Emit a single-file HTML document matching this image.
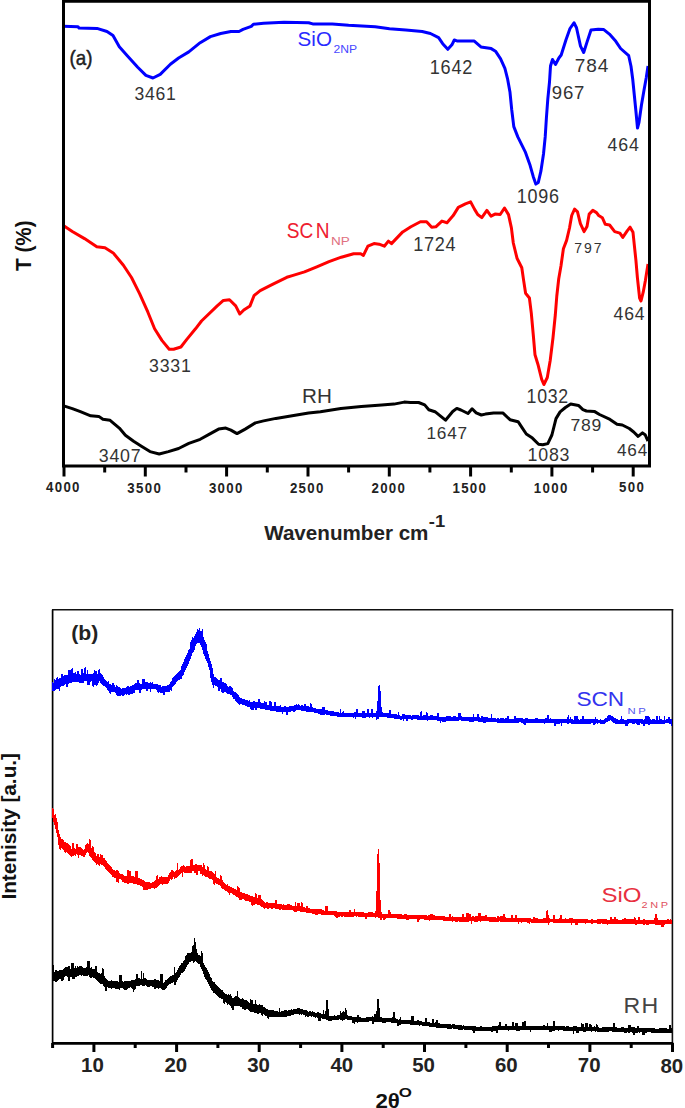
<!DOCTYPE html>
<html><head><meta charset="utf-8"><style>
html,body{margin:0;padding:0;background:#fff;}
body{width:685px;height:1108px;overflow:hidden;}
svg{display:block;}
text{font-family:"Liberation Sans",sans-serif;}
</style></head><body>
<svg width="685" height="1108" viewBox="0 0 685 1108">
<rect width="685" height="1108" fill="#fff"/>
<g fill="none" stroke-width="3" stroke-linejoin="round" stroke-linecap="butt">
<polyline stroke="#0000ff" points="63,26.3 78,26.8 79,28 97,28.4 107,31.5 113,35.6 119.3,46.8 127.5,56 137.7,67.2 145.9,75.4 153,78 160.2,74.4 170.4,64.2 178.6,58 188.8,51.9 200.2,42.7 210.4,36.6 220.7,33.5 230.9,31.5 239,31.5 243,29.4 251.3,26.4 253.4,24.3 263.6,23.3 284,22.3 308.6,22.7 312.7,23.9 332.3,23.9 348.6,25.3 375.2,26.8 389.5,28.8 405.8,30 422.2,31.5 430.4,33.5 438.6,37.6 442.7,43.7 447.8,49.3 451.9,44.8 454.3,40 456.9,40.9 474,40.9 480.9,46.9 491.2,48.6 495.5,51.2 500.6,58.9 504.9,68.3 507.5,78.6 510,92.3 511.7,109.5 513.8,126.6 517.8,136.9 525.5,152.4 529.8,164.4 533.2,176.4 535.8,184.1 538.3,182.4 540.9,171.2 543.5,154 545.2,136.9 546.4,118 547.8,99.2 549.5,82 550.5,66 552.5,59.5 555.5,64.5 558.9,58 561.2,55 566,39.7 570,28.5 574,22.8 576.5,27.7 580.5,46.1 583.7,52.5 587,42.1 591,30 598.2,29.3 603.8,29.6 609.4,34.1 615.8,41.3 620.6,48.5 628.7,55.7 631,66.2 632.7,79 634.3,95 635.9,111 637.5,128 639,122.4 641.5,104.7 644,90.3 646.3,77.4 648,66"/>
<polyline stroke="#ff0000" points="63,225.3 72.3,231.5 84.5,238.6 96.8,246.8 105,247.8 113.2,252.9 123.4,265.2 131.5,277.5 139.7,293.8 147.9,312.2 154.6,328.8 161.9,340.4 169.2,349.2 173.6,349.2 180.9,347 186.6,339.6 195.5,328.8 201.5,321 217.2,305.9 223.4,300.4 229.5,299.8 235.7,305.9 239.8,314 243.8,310 250,305.9 254,295.7 260.2,290.6 272.5,284.4 286.8,277.3 292.3,275.6 304.5,271.9 316.8,266.8 329,261.6 341.3,257.2 353.6,253.8 360.7,253.8 363.4,255.4 367.9,246.2 374,243.6 379.1,244.2 384.3,246.2 388.4,241.1 391.5,243.6 402.7,231.9 410.9,226.8 420.4,221.7 426.6,221.7 431.7,227.2 435.8,226.8 441.9,221.1 447,222.7 453.2,215.6 458.3,207.4 465.4,203.9 470.6,201.9 474.6,209.4 477.7,214.5 481.8,217.6 486.9,210.4 491,216.2 495,214.1 500.2,214.5 504.5,208 508.5,214.6 511.4,227.9 513.3,243 517,258.2 521.8,267.7 523.7,280.9 525.6,293.2 529.4,298 531.3,313.1 533.2,334 535,354.8 537.9,364.2 541.7,379.4 543.9,384.5 547.3,377.5 550.2,360.5 553,337.7 555.3,315 556.8,296 558.7,279 561,265.8 563.4,248.7 566.6,240.4 569.5,228 571.7,215.5 574.6,209 577.5,211.9 580.4,223.6 584.1,231.6 587,226.5 589.2,214.1 592.8,210.4 596.5,212.6 598.7,215.5 602.3,217.7 605.3,224.3 609.6,225 614.7,231.6 619.9,233.1 622.8,237.4 627.2,230.9 630.1,227.2 633,232.3 634.5,246.9 635.9,260.1 637.4,277.6 639.6,298 641,301 643.2,292.2 645.4,280.5 648,264"/>
<polyline stroke="#000" points="63,405.6 72.3,408.6 80.4,411.7 90.7,415.8 98.8,416.4 102.9,419.3 110.1,420.3 119.3,428.1 125.4,435.2 133.6,441.3 141.8,446.5 150,451.6 159.2,454 168.4,451.6 178.6,448.5 188.8,443.4 200.2,439.3 210.4,433.6 218.6,429.1 225.8,428.1 230.9,430.1 237,433.6 245.2,429.1 255.4,422.9 263.6,420.9 275.9,418.4 292.2,415.8 308.6,413.1 320.4,411.7 340.9,408.6 361.3,406.6 381.7,404.9 394,404.1 404.2,402.1 410.4,402.5 418.6,402.5 424.7,404.9 428.8,409.7 435,411.7 445.5,420.2 452.7,411.5 456.8,408.4 460.9,410 464,411.5 468,413.5 472.1,408.8 476.2,412.9 481.3,415 485.4,414.1 493.6,412.9 502.8,412.9 510,419.7 518.1,421.7 522.2,427.8 526.3,434 532.4,438.1 538.6,444.2 542.7,444.8 547.8,443.6 551.9,435 556,418.6 560.1,411.9 565.4,407.5 570.7,404 578.5,405.4 582.9,409.6 586.4,411 594.3,411.4 599.5,414.5 610,419.4 617,424.2 622.3,425 629.3,428.5 633.7,432 638.1,436.4 642.5,432.9 645.1,434.7 648,441"/>
</g>
<g fill="none" stroke="#000">
<path d="M63.5 1.3H649.5V466H63.5Z" stroke-width="3"/>
<line x1="52.6" y1="609.8" x2="52.6" y2="1043.4" stroke-width="1.7"/>
<line x1="52" y1="609.8" x2="673.2" y2="609.8" stroke-width="1.6" stroke="#111"/>
<line x1="672.4" y1="609" x2="672.4" y2="1043.4" stroke-width="1.6" stroke="#111"/>
<line x1="52" y1="1043.4" x2="673.2" y2="1043.4" stroke-width="2.8"/>
</g>
<g stroke="#000" stroke-width="3">
<line x1="633.2" y1="466" x2="633.2" y2="476.5" />
<line x1="551.9" y1="466" x2="551.9" y2="476.5" />
<line x1="470.6" y1="466" x2="470.6" y2="476.5" />
<line x1="389.3" y1="466" x2="389.3" y2="476.5" />
<line x1="308" y1="466" x2="308" y2="476.5" />
<line x1="226.6" y1="466" x2="226.6" y2="476.5" />
<line x1="145.3" y1="466" x2="145.3" y2="476.5" />
<line x1="64" y1="466" x2="64" y2="476.5" />
<line x1="592.6" y1="466" x2="592.6" y2="472.5" />
<line x1="511.3" y1="466" x2="511.3" y2="472.5" />
<line x1="429.9" y1="466" x2="429.9" y2="472.5" />
<line x1="348.6" y1="466" x2="348.6" y2="472.5" />
<line x1="267.3" y1="466" x2="267.3" y2="472.5" />
<line x1="186" y1="466" x2="186" y2="472.5" />
<line x1="104.7" y1="466" x2="104.7" y2="472.5" />
<line x1="93.9" y1="1043" x2="93.9" y2="1052" />
<line x1="176.6" y1="1043" x2="176.6" y2="1052" />
<line x1="259.2" y1="1043" x2="259.2" y2="1052" />
<line x1="341.9" y1="1043" x2="341.9" y2="1052" />
<line x1="424.5" y1="1043" x2="424.5" y2="1052" />
<line x1="507.2" y1="1043" x2="507.2" y2="1052" />
<line x1="589.9" y1="1043" x2="589.9" y2="1052" />
<line x1="672.5" y1="1043" x2="672.5" y2="1052" />
<line x1="52.6" y1="1043" x2="52.6" y2="1048" />
<line x1="135.2" y1="1043" x2="135.2" y2="1048" />
<line x1="217.9" y1="1043" x2="217.9" y2="1048" />
<line x1="300.6" y1="1043" x2="300.6" y2="1048" />
<line x1="383.2" y1="1043" x2="383.2" y2="1048" />
<line x1="465.9" y1="1043" x2="465.9" y2="1048" />
<line x1="548.5" y1="1043" x2="548.5" y2="1048" />
<line x1="631.2" y1="1043" x2="631.2" y2="1048" />
</g>
<g stroke="none" shape-rendering="crispEdges">
<path class="crv" fill="#0000ff" d="M52 681.9H53V682.8H54V678.5H55V680.4H56V678.1H57V677.3H58V679.1H59V678.3H60V677.6H61V674.1H62V673.9H63V675.8H64V675.3H65V674.6H66V674.6H67V674.9H68V670.3H69V670.4H70V670.4H71V668.7H72V668.4H73V672.6H74V672.7H75V672.4H76V673.7H77V670.7H78V671H79V674.4H80V674.5H81V669.2H82V669H83V673.1H84V668.1H85V667.2H86V673.7H87V670.4H88V674H89V673.9H90V673.9H91V673.8H92V673.6H93V673.4H94V669.9H95V671.3H96V671.4H97V673.5H98V670.4H99V669.3H100V673H101V674.3H102V675.3H103V676.7H104V678.8H105V680H106V680.8H107V682.4H108V681.4H109V683.7H110V684.3H111V685.2H112V682.9H113V683.1H114V685H115V686.5H116V685.3H117V686H118V686.7H119V687.2H120V688.1H121V688.6H122V688.1H123V688H124V688.1H125V687.7H126V686.7H127V686.3H128V686H129V686.8H130V686.2H131V685.6H132V685.1H133V684.6H134V684.2H135V683.3H136V683.3H137V679.7H138V679.6H139V683.1H140V683.6H141V683.6H142V679.2H143V679.1H144V679H145V681.5H146V682.3H147V682.4H148V682.5H149V682.6H150V682.2H151V682.9H152V682.4H153V683.8H154V683.8H155V683.8H156V684.1H157V684.4H158V685H159V684.5H160V685.2H161V686.9H162V686.2H163V685.9H164V685.7H165V686.3H166V685.5H167V685.3H168V685.1H169V683.8H170V682H171V680.6H172V678.3H173V676.7H174V675.7H175V674.9H176V673.6H177V672.5H178V671.5H179V671H180V670.2H181V666H182V663.5H183V661.8H184V659.3H185V657.2H186V655.3H187V652.7H188V650.4H189V649H190V642.3H191V639.5H192V637.2H193V638.1H194V636.2H195V634.3H196V632.3H197V629.2H198V629.5H199V628H200V630.8H201V630.7H202V629.2H203V636.7H204V639.7H205V642H206V644.4H207V650.6H208V654.2H209V657.6H210V661H211V664.3H212V668.2H213V673.5H214V676.6H215V676.9H216V678.3H217V679H218V679.7H219V680.4H220V677.7H221V678.2H222V681.7H223V682.2H224V682.7H225V683H226V684H227V685.8H228V686.7H229V685.9H230V686.3H231V687.2H232V688.2H233V690.5H234V691.5H235V692.1H236V693.3H237V694.1H238V695H239V696.7H240V697.8H241V698.1H242V698.5H243V699H244V699.2H245V699.9H246V700.4H247V700.1H248V700.6H249V700.3H250V702H251V702H252V702.1H253V701.4H254V701.1H255V701.6H256V701.6H257V702H258V699.3H259V699.4H260V702.4H261V702.7H262V703H263V703.3H264V701.3H265V701.5H266V701.7H267V704.8H268V705H269V701.3H270V701.4H271V701.5H272V705.5H273V705.7H274V701.8H275V701.9H276V705.8H277V705.9H278V705.9H279V706H280V705.4H281V706.6H282V706.9H283V707.2H284V705.9H285V706.2H286V707.4H287V707.2H288V706.6H289V706.3H290V706.1H291V705.8H292V705.5H293V705.7H294V705.4H295V705.1H296V704.4H297V704.5H298V704.1H299V705.3H300V705.5H301V705.1H302V705.3H303V705.5H304V703.9H305V703.9H306V706.1H307V706.1H308V706.2H309V706.5H310V703.1H311V703.5H312V707.4H313V707.6H314V708.1H315V708.3H316V708.5H317V708.7H318V708.7H319V708.9H320V708.9H321V709.1H322V706.7H323V706.9H324V707H325V709.7H326V709.9H327V710H328V710.8H329V711H330V710.6H331V710.8H332V711.1H333V711.3H334V711.5H335V711.6H336V711.7H337V711.9H338V712.1H339V712.5H340V709.3H341V712.8H342V711.9H343V710.9H344V712.6H345V712.6H346V712.9H347V712.9H348V712.8H349V713.3H350V713.3H351V713.2H352V713.1H353V712.6H354V712.4H355V711.9H356V708.9H357V708.6H358V712.9H359V713H360V713.1H361V713.1H362V710.5H363V710.5H364V710.5H365V713.2H366V712.9H367V709.4H368V709.4H369V712.9H370V712.6H371V709.1H372V709.2H373V713.3H374V713.3H375V713.1H376V710.8H377V700.9H378V686H379V684.8H380V691.3H381V706.5H382V712.2H383V713H384V713.2H385V713.3H386V712.7H387V712.8H388V713.4H389V710H390V710.1H391V713.8H392V713.7H393V713.8H394V714.4H395V714.3H396V714.4H397V714.6H398V711.5H399V715.1H400V715.5H401V715.5H402V714.3H403V714.2H404V714.2H405V715.3H406V715.3H407V715.3H408V715.4H409V715.2H410V715.2H411V715.5H412V715.4H413V715.3H414V715.2H415V714.6H416V714.6H417V714.8H418V715.4H419V715.6H420V711.5H421V711.4H422V715.5H423V715.1H424V715.2H425V715.3H426V712.4H427V712.5H428V716.2H429V716.1H430V715.3H431V715.4H432V715.4H433V715.8H434V715.9H435V716H436V716.1H437V712.8H438V712.9H439V716.8H440V716.9H441V717.1H442V717H443V717.2H444V717.4H445V717.4H446V716.2H447V716.1H448V716H449V715.9H450V716.3H451V716.9H452V716.9H453V716.4H454V716.4H455V716.3H456V716.7H457V716.7H458V713.3H459V713.2H460V713.2H461V716.1H462V716.6H463V716.7H464V716.8H465V716.8H466V716.8H467V716.8H468V716.7H469V716.8H470V716.9H471V717H472V717.4H473V714.2H474V717.2H475V716.9H476V717.2H477V714.1H478V714.2H479V717.4H480V717.5H481V716.3H482V716.3H483V717.3H484V717.4H485V717.4H486V717.4H487V717.4H488V717.8H489V718H490V718.1H491V714.3H492V718.4H493V718.4H494V718.4H495V718.4H496V718.5H497V718.4H498V718.4H499V718.5H500V717.6H501V717.7H502V717.7H503V717.8H504V718.7H505V718.3H506V718.3H507V716.3H508V716.2H509V718.6H510V718.6H511V718.5H512V718.5H513V718.6H514V715.5H515V715.6H516V718.2H517V718.1H518V718.2H519V718.1H520V718.3H521V718.3H522V718.4H523V718.5H524V718.6H525V718.1H526V718.2H527V718.3H528V718.9H529V718.7H530V718.6H531V718.5H532V718.5H533V718.7H534V718.7H535V718.2H536V718.2H537V718.4H538V718.5H539V718.5H540V718.5H541V719H542V719.1H543V719.1H544V718.9H545V718.1H546V718.1H547V715H548V715H549V718.7H550V718.3H551V718.9H552V718.9H553V719H554V719H555V719.3H556V719.4H557V719.4H558V719.4H559V719.4H560V718.6H561V718.6H562V719H563V719H564V718.7H565V718.7H566V718.8H567V717.2H568V715.3H569V719.3H570V716.7H571V719.3H572V719.3H573V719.6H574V716.4H575V716.4H576V716.1H577V716.1H578V719.2H579V719.5H580V718.6H581V718.7H582V715.7H583V715.7H584V719.2H585V719.2H586V719.4H587V719.3H588V719.4H589V719.4H590V719.4H591V719.2H592V718.7H593V718.8H594V718.8H595V716.9H596V719.2H597V718.6H598V719.5H599V719.6H600V719.2H601V719.5H602V719.5H603V719.6H604V718.9H605V718.4H606V717.7H607V716.4H608V715.4H609V714.7H610V714.6H611V715.7H612V716.4H613V717.2H614V717.7H615V718.4H616V719.2H617V718.9H618V719.7H619V719.8H620V719.4H621V715.7H622V719.3H623V719.3H624V719.7H625V719.6H626V719.5H627V719.4H628V718.8H629V719.4H630V719.4H631V719.4H632V718.8H633V718.7H634V718.5H635V718.9H636V718.8H637V718.9H638V718.9H639V718.9H640V719.3H641V719.3H642V719.4H643V719.5H644V718.9H645V716.2H646V716.2H647V716.2H648V716.2H649V717.3H650V719.1H651V719.7H652V719.4H653V719.4H654V719.2H655V719.7H656V716.1H657V716.1H658V719.7H659V715.9H660V718.9H661V718.9H662V719.7H663V719.7H664V715.9H665V719.5H666V719.4H667V719.3H668V716.8H669V716.8H670V719H671V719.1H672V725.9H671V724H670V724H669V723.2H668V723.3H667V723.4H666V723.4H665V723.7H664V723.7H663V723.7H662V723.5H661V723.5H660V723.7H659V723.8H658V723.8H657V723.9H656V723.9H655V723.6H654V723.6H653V723.6H652V723.9H651V723.5H650V724.5H649V724.5H648V723.5H647V723.5H646V723.7H645V726.1H644V726.1H643V723.7H642V723.6H641V723.1H640V725H639V725H638V725H637V723.8H636V723.1H635V723.6H634V723.5H633V723.6H632V723.2H631V723.2H630V723.1H629V723.8H628V726.3H627V726.4H626V725.5H625V723.5H624V723.8H623V723.8H622V723.8H621V723.8H620V723.6H619V723.5H618V723.5H617V723.6H616V723.5H615V722.8H614V722.5H613V721.7H612V721H611V720.2H610V720.5H609V721.2H608V721.6H607V722.3H606V723H605V723.6H604V723.6H603V724H602V724H601V723.5H600V723.4H599V723.3H598V723.8H597V723.3H596V723.7H595V725.2H594V725.2H593V723.3H592V723.1H591V723.7H590V723.7H589V723.8H588V723.6H587V724.1H586V723.7H585V723.7H584V723.7H583V724H582V723.7H581V723.6H580V723.6H579V724H578V724H577V723.8H576V723.8H575V723.6H574V723.6H573V723.5H572V723.5H571V723.4H570V723.4H569V723.7H568V723.7H567V723.4H566V723.4H565V723.3H564V723.4H563V723.4H562V726.1H561V723.2H560V724.4H559V724.4H558V724.4H557V723.7H556V726.1H555V726H554V723.1H553V723H552V722.9H551V723H550V723.3H549V723.4H548V723.3H547V723.2H546V723.2H545V723.5H544V722.7H543V722.7H542V722.7H541V722.9H540V722.9H539V722.9H538V722.8H537V722.9H536V722.8H535V723.3H534V723.3H533V722.6H532V722.7H531V722.8H530V722.9H529V723.1H528V723.3H527V723.2H526V724.6H525V724.5H524V724.4H523V722.6H522V722.5H521V722.4H520V722.4H519V722.5H518V723H517V723.1H516V723.1H515V722.8H514V722.8H513V722.7H512V722.7H511V722.8H510V722.7H509V722.9H508V722.9H507V722.9H506V722.9H505V722.7H504V722.8H503V722.8H502V722.7H501V722.7H500V723.4H499V723.4H498V723.3H497V722.3H496V722.3H495V722.1H494V722.1H493V722.1H492V722.2H491V722.2H490V722.1H489V722H488V721.6H487V721.5H486V722.6H485V722.6H484V722.5H483V722H482V721.9H481V721.8H480V721.8H479V721.7H478V721.3H477V721.2H476V721.4H475V721.4H474V721.5H473V721.5H472V721.7H471V721.6H470V721.5H469V721.4H468V720.8H467V720.7H466V720.7H465V720.7H464V721H463V720.9H462V720.5H461V720.4H460V720.4H459V720.5H458V720.6H457V720.7H456V721.1H455V721.1H454V721.1H453V720.7H452V720.8H451V721.3H450V721.1H449V721.2H448V721.3H447V721.4H446V721.5H445V721.5H444V721.5H443V721.6H442V721.4H441V723.3H440V720.8H439V720.7H438V720.5H437V720.3H436V720.2H435V720.1H434V720H433V720.3H432V720.2H431V720.3H430V720.3H429V720.3H428V720.5H427V720.3H426V720.2H425V720.1H424V719.7H423V720H422V720H421V719.8H420V719.7H419V719.5H418V719.6H417V719.4H416V719.4H415V719.3H414V719.4H413V719.5H412V719.5H411V719.4H410V719.4H409V719.3H408V721.3H407V721.3H406V719.1H405V719.3H404V721H403V719.4H402V719.8H401V719.8H400V719.1H399V719H398V718.8H397V718.7H396V718.5H395V718.7H394V718.3H393V718.2H392V718.3H391V718.2H390V718.1H389V717.9H388V717.5H387V717.4H386V717.2H385V717.1H384V717.1H383V717H382V716.9H381V716.9H380V717H379V718.8H378V719.4H377V719.5H376V717.1H375V717.1H374V717.2H373V717.6H372V717.3H371V717.2H370V717.5H369V717.4H368V717.4H367V717.4H366V717.6H365V717.7H364V717.7H363V717.7H362V717.1H361V717.1H360V717.1H359V717H358V716.9H357V716.6H356V718.5H355V717.3H354V717.5H353V717.1H352V717.1H351V717.2H350V717.2H349V717H348V717H347V717H346V717H345V717H344V717.1H343V717.1H342V717H341V716.9H340V716.9H339V716.8H338V716.6H337V716.4H336V716H335V715.9H334V715.8H333V716.3H332V716.2H331V715.9H330V715.3H329V715.1H328V714.7H327V714.6H326V714.4H325V715H324V714.9H323V714.8H322V714.6H321V714.5H320V713.7H319V713.5H318V713.1H317V712.9H316V712.6H315V712.5H314V712.3H313V712.1H312V712H311V712.1H310V712.1H309V711.8H308V711.5H307V711.5H306V711H305V711.1H304V711.1H303V710.9H302V710.7H301V710.3H300V710.1H299V710.4H298V710.1H297V709.9H296V711.3H295V711.6H294V711.9H293V710.9H292V711.3H291V711.6H290V711.8H289V712.1H288V714.8H287V715H286V712.4H285V712.2H284V712.3H283V714H282V711.7H281V711.5H280V711.6H279V711.6H278V711.5H277V711.5H276V710.7H275V710.6H274V711H273V710.9H272V710.7H271V710.6H270V710.3H269V710.1H268V710H267V709.8H266V709.5H265V709.3H264V709.1H263V709.2H262V708.9H261V708.6H260V708.4H259V708.4H258V708.2H257V709.9H256V709.8H255V707.6H254V710.2H253V710.3H252V710.3H251V709.3H250V707.4H249V707.4H248V707.1H247V706.1H246V705.7H245V705.1H244V704.9H243V704.6H242V704.2H241V703.9H240V704.8H239V704H238V703.2H237V701.8H236V701H235V699H234V698.7H233V696.5H232V695.3H231V694.5H230V693.7H229V694.4H228V694H227V692.5H226V691.7H225V691.9H224V693.3H223V692.8H222V692.4H221V688.9H220V691.2H219V690.5H218V686.9H217V686.3H216V686.2H215V685.1H214V687.6H213V684.6H212V681.5H211V677.8H210V670.2H209V666.8H208V663.3H207V661.1H206V658.9H205V656.1H204V653.7H203V650.3H202V647.3H201V645.3H200V643.4H199V642.8H198V642.5H197V644.3H196V646.2H195V649.8H194V652.2H193V652.9H192V655.7H191V658.5H190V660.9H189V664.1H188V666H187V667.8H186V669.9H185V672.3H184V674.7H183V676.4H182V678.9H181V678.6H180V679.6H179V680.4H178V681.3H177V682.2H176V683.6H175V684.5H174V686H173V687.4H172V691.3H171V689.8H170V691.9H169V692.4H168V691.9H167V692H166V691.7H165V694.8H164V695.1H163V692.8H162V692.6H161V692.5H160V692.1H159V692.9H158V692.3H157V689.8H156V689.2H155V688.9H154V689H153V689.4H152V689.4H151V692.3H150V689.4H149V689.4H148V691H147V690.9H146V689H145V689.1H144V689.2H143V689.2H142V689.7H141V692.8H140V692.9H139V689.8H138V690H137V690.2H136V690.1H135V692.7H134V693.2H133V693.7H132V693.9H131V694.4H130V694.7H129V694.9H128V694.4H127V694.9H126V694.2H125V694.6H124V696.3H123V696.3H122V694.7H121V696.4H120V696.2H119V696.2H118V695.5H117V694.8H116V692.6H115V692.3H114V692.3H113V692.2H112V692.1H111V693.9H110V693.4H109V690.7H108V689.8H107V688.4H106V687.3H105V686.2H104V685.8H103V684.6H102V684H101V682.7H100V681.4H99V683.4H98V684.6H97V685.8H96V684.7H95V684.5H94V686.8H93V685.7H92V681.4H91V682.1H90V684.8H89V684.8H88V684.9H87V681.3H86V681.2H85V681.4H84V682.5H83V682.8H82V683H81V683.3H80V682.5H79V682.2H78V682H77V681.8H76V681.6H75V681.9H74V682H73V682.2H72V682.9H71V682.9H70V682.9H69V683.6H68V687.1H67V687.1H66V684.2H65V685.3H64V685.5H63V685.6H62V686.3H61V686.9H60V691.2H59V688.6H58V688.7H57V689.2H56V690.4H55V690.6H54V691.2H53V690.9H52Z"/>
<path class="crv" fill="#ff0000" d="M52 807.8H53V809.3H54V814.8H55V813.8H56V818.3H57V822.3H58V829.9H59V834.4H60V837.2H61V838.5H62V839.3H63V840H64V841.8H65V842H66V843.1H67V842.7H68V843.9H69V844.8H70V845.8H71V849.2H72V843H73V842.5H74V848.2H75V848.5H76V844.2H77V844H78V847H79V846.9H80V846.9H81V848.2H82V848.7H83V849.7H84V848.7H85V845.3H86V843.8H87V843H88V843.7H89V839H90V840.2H91V848.3H92V845.8H93V847.1H94V852H95V853.3H96V855.9H97V853.9H98V854.4H99V857H100V854.2H101V854.5H102V854.7H103V857.5H104V858.1H105V859.6H106V861.3H107V862.7H108V864.3H109V865.2H110V866.1H111V866.9H112V868.9H113V869.9H114V870.3H115V870.7H116V869.8H117V870.4H118V870.8H119V872.8H120V873.5H121V874.1H122V874.4H123V875H124V875.6H125V875.8H126V876.4H127V870H128V870.1H129V870.7H130V870.7H131V876.3H132V876.3H133V876.4H134V877.3H135V871.2H136V871.4H137V871.4H138V878.1H139V878.3H140V878.6H141V878.7H142V879.5H143V880H144V880.8H145V882.1H146V882.1H147V882.1H148V882H149V882.4H150V882.9H151V882.7H152V881.9H153V881.6H154V880.9H155V880.3H156V876H157V875.3H158V878.9H159V877.2H160V876.5H161V876.3H162V876.8H163V876.6H164V876.5H165V877.2H166V877.1H167V876.7H168V875.4H169V873.3H170V872H171V870.2H172V870.2H173V871.2H174V871.5H175V870.5H176V870.2H177V863.4H178V870.2H179V869.4H180V866.9H181V866.1H182V865.7H183V865H184V866.4H185V866.5H186V866H187V866.2H188V866H189V865.6H190V859.6H191V859.1H192V859H193V865.2H194V864.5H195V864.4H196V864.4H197V864.8H198V864.7H199V864.7H200V864.7H201V865.2H202V866.5H203V863.4H204V864.5H205V869.2H206V869.9H207V866.2H208V866.9H209V870.7H210V871.3H211V871.3H212V871.8H213V872.8H214V873.8H215V871.4H216V877.2H217V877.7H218V878.2H219V878.6H220V875.1H221V876H222V880H223V881.8H224V882.7H225V883.7H226V884.8H227V884.2H228V886.4H229V885.6H230V886.9H231V887.3H232V887.8H233V888.4H234V888.9H235V889.1H236V889.7H237V886.2H238V886.8H239V887.5H240V891.7H241V891.9H242V892.9H243V893.2H244V893.4H245V894.2H246V893.5H247V894H248V894.5H249V895.4H250V895.5H251V896.3H252V896.4H253V896.9H254V896.8H255V893.2H256V893.6H257V898.3H258V894.7H259V895H260V895.3H261V899.2H262V899.8H263V901.3H264V901.9H265V902.5H266V901.9H267V902.3H268V902.5H269V903.2H270V903.2H271V903.4H272V903.4H273V903.3H274V903.3H275V900.1H276V900.2H277V903.7H278V903.9H279V903.9H280V904.1H281V904.3H282V904.9H283V904.4H284V904.5H285V904.5H286V904.5H287V904.2H288V904.2H289V904.4H290V904.6H291V905.4H292V905.6H293V906H294V906.2H295V902H296V905.7H297V902.8H298V902.9H299V903H300V906.1H301V902.4H302V902.5H303V907.1H304V907.2H305V907.5H306V905.5H307V905.8H308V908H309V908.1H310V908.8H311V908.9H312V908.9H313V909H314V909H315V909.1H316V909.3H317V909.3H318V908.8H319V908.8H320V908.9H321V909.1H322V910.1H323V910.4H324V910.6H325V906.4H326V906.4H327V906.4H328V910.7H329V910.8H330V910.9H331V910.9H332V911H333V911.2H334V911H335V911.2H336V910.7H337V911.7H338V911.7H339V911.8H340V911.7H341V911.8H342V911.8H343V911.9H344V911.6H345V911.7H346V912.1H347V912.2H348V912.2H349V910.1H350V910.2H351V912.1H352V912.3H353V912.1H354V909.1H355V912.3H356V911.9H357V912H358V912.1H359V912.2H360V912.4H361V912.4H362V912.4H363V912.3H364V912.6H365V912.6H366V912.6H367V912.6H368V911.8H369V911.9H370V912H371V912.1H372V912.1H373V913.2H374V913.1H375V910.7H376V891H377V853.7H378V848.5H379V862.5H380V899.6H381V912.4H382V913.5H383V913.8H384V913.8H385V913.9H386V913.7H387V913.8H388V910.2H389V910.2H390V911.8H391V914H392V913.6H393V913.6H394V913.6H395V913.6H396V914.1H397V913.9H398V913.8H399V913.8H400V913.8H401V913.9H402V914.6H403V914.7H404V914.1H405V914.2H406V914.3H407V914.8H408V914.9H409V915.2H410V915.2H411V915.2H412V915.2H413V914.5H414V915.3H415V914.9H416V915H417V915H418V915H419V915.1H420V914.9H421V914.9H422V914.9H423V915.4H424V915.4H425V915.3H426V915.4H427V915.5H428V915.3H429V915H430V913.8H431V913.9H432V913.9H433V915.2H434V915.1H435V915.6H436V915.6H437V915.8H438V915.6H439V915.7H440V916.1H441V916.2H442V916.2H443V916.3H444V916.3H445V916.6H446V916.6H447V916.6H448V916.7H449V914.1H450V914.2H451V916.9H452V915.8H453V917.1H454V916.7H455V916.5H456V916.6H457V916.7H458V917.3H459V916.6H460V917.1H461V917H462V913.9H463V913.8H464V917.3H465V917.3H466V912.9H467V912.9H468V912.9H469V914.1H470V914H471V916.6H472V916.2H473V916.2H474V917.1H475V916.2H476V916.2H477V916.2H478V912.7H479V912.8H480V912.8H481V916.4H482V916.4H483V916.4H484V916.4H485V914.8H486V914.7H487V916.7H488V916.6H489V916.6H490V916.9H491V917H492V917.1H493V917.2H494V917.3H495V917.3H496V917.7H497V916.1H498V916.1H499V916.8H500V916.3H501V916.3H502V916.4H503V914.1H504V914.1H505V917.3H506V917.6H507V917.7H508V917.7H509V917.7H510V917.6H511V914.8H512V914.8H513V918.1H514V918.1H515V914.9H516V914.9H517V918.1H518V918.1H519V918.1H520V918.1H521V917.9H522V917.8H523V917.7H524V917.7H525V918H526V917.9H527V917.8H528V917.8H529V918.2H530V918H531V918.5H532V918.6H533V917.4H534V917.4H535V918.2H536V918.3H537V918.4H538V918.7H539V918.7H540V918.7H541V918.7H542V918.6H543V917.9H544V917.9H545V917.8H546V910.6H547V909.8H548V914.7H549V917.9H550V918.6H551V918.5H552V918.5H553V915.2H554V915.4H555V918.9H556V918.9H557V918.8H558V918.7H559V918.4H560V914.7H561V914.8H562V918.5H563V918.6H564V918.8H565V917.9H566V919H567V918.5H568V918.5H569V918.3H570V918.4H571V918.4H572V918.4H573V919H574V919.1H575V918.7H576V918.8H577V918.7H578V918.7H579V918.7H580V918.7H581V919H582V919H583V919H584V918.5H585V918.6H586V919.1H587V919.4H588V919.5H589V919.5H590V919.5H591V919.3H592V919.3H593V919.5H594V919.5H595V919.5H596V919.5H597V919.2H598V919.2H599V919.2H600V918.8H601V918.5H602V919H603V919H604V919H605V919.3H606V919.3H607V919.5H608V919.5H609V919.5H610V916.7H611V916.7H612V918.8H613V918.8H614V916.8H615V916.9H616V919.4H617V919.4H618V919.5H619V919.6H620V919.6H621V919.8H622V918.5H623V918.5H624V918.4H625V918.4H626V919.1H627V919.1H628V919.1H629V919.1H630V919.4H631V919.2H632V919H633V919.1H634V917.4H635V917.5H636V920.1H637V919.9H638V916.7H639V916.7H640V919.8H641V919.8H642V919.8H643V919.2H644V919.2H645V920H646V920.2H647V920.2H648V920.2H649V919.6H650V919.6H651V920H652V920.1H653V919.9H654V917.6H655V913.5H656V913.5H657V917.7H658V920.2H659V920.4H660V920.4H661V920.4H662V920H663V920.3H664V920.1H665V919.8H666V919.7H667V919.3H668V919.3H669V919.5H670V919.1H671V920.1H672V924.2H671V923.9H670V923.9H669V923.8H668V923.8H667V924.1H666V924.3H665V924.7H664V926.8H663V926.8H662V926.8H661V924.7H660V924.7H659V924.6H658V924.7H657V924.6H656V924.6H655V924.1H654V924.1H653V924.1H652V924.1H651V924.2H650V924.2H649V924.8H648V924.7H647V924.7H646V923.9H645V924.5H644V924.5H643V923.8H642V923.8H641V923.8H640V923.8H639V923.9H638V923.9H637V924.5H636V924.5H635V924.4H634V924.3H633V924.2H632V923.9H631V924.1H630V923.6H629V923.6H628V923.6H627V923.6H626V924H625V924.1H624V924.1H623V924.1H622V923.8H621V923.7H620V923.7H619V923.7H618V924.2H617V924.2H616V923.5H615V923.9H614V923.9H613V923.8H612V923.8H611V923.5H610V923.5H609V923.5H608V925.2H607V923.8H606V923.7H605V923.6H604V923.5H603V923.6H602V923.4H601V924.4H600V923.5H599V923.6H598V923.6H597V923.4H596V923.4H595V923.4H594V923.4H593V923.6H592V923.6H591V923.4H590V923.4H589V923.4H588V923.4H587V923.1H586V923.5H585V923.4H584V923.3H583V923.3H582V923.3H581V923.2H580V923.2H579V923.2H578V924.8H577V924.8H576V924.8H575V923.4H574V923.4H573V922.8H572V924.6H571V922.6H570V922.6H569V922.8H568V922.9H567V923.2H566V922.9H565V923.2H564V923.3H563V923.2H562V922.6H561V922.5H560V922.5H559V922.7H558V922.8H557V922.9H556V922.9H555V923H554V922.5H553V922.3H552V922.3H551V922.3H550V922.5H549V925.1H548V922.9H547V922.7H546V922.5H545V922.7H544V922.7H543V922.6H542V923.2H541V923.2H540V923.2H539V923.2H538V922.9H537V922.7H536V922.7H535V922.8H534V922.8H533V923.2H532V923.2H531V922.3H530V924H529V922.6H528V922.5H527V922.4H526V921.8H525V921.9H524V921.9H523V922H522V922.5H521V922.4H520V922.4H519V923.5H518V922.1H517V921.9H516V922.3H515V921.9H514V921.8H513V921.8H512V921.9H511V921.9H510V922H509V922H508V922H507V922H506V922.2H505V922.1H504V922.1H503V921.7H502V921.7H501V921.6H500V921.4H499V921.5H498V921.6H497V921.6H496V921.7H495V921.6H494V921.8H493V921.8H492V921.7H491V921.6H490V921.5H489V921.4H488V921.1H487V921.1H486V921.1H485V921H484V921H483V921H482V921H481V921.5H480V921.1H479V920.9H478V922H477V922H476V922H475V921.7H474V920.9H473V920.9H472V923.6H471V921.4H470V921.4H469V921.5H468V921.7H467V921.7H466V921.7H465V921.6H464V921.8H463V921.8H462V921.7H461V921.8H460V921.9H459V921.2H458V921.6H457V921.6H456V921.6H455V920.9H454V921H453V921.8H452V920.9H451V920.8H450V920.7H449V920.7H448V920.6H447V920.6H446V920.5H445V920.7H444V920.5H443V920.4H442V920.3H441V920.3H440V920.4H439V920.3H438V919.8H437V919.7H436V919.7H435V919.9H434V920H433V920.3H432V920.2H431V920.1H430V920.9H429V920.4H428V920.1H427V920H426V919.9H425V919.5H424V919.4H423V919.3H422V919.4H421V919.4H420V919.5H419V921.8H418V921.8H417V919.1H416V919.1H415V919.2H414V919.2H413V919.4H412V919.4H411V919.4H410V919.4H409V919.9H408V919.9H407V919.6H406V918.8H405V918.7H404V919H403V918.6H402V918.8H401V918.7H400V918.6H399V918.6H398V918.5H397V918H396V918.3H395V918.3H394V918.3H393V918.3H392V918.2H391V918.2H390V918.1H389V918.1H388V917.9H387V917.9H386V918.6H385V919.6H384V919.5H383V917.8H382V919.9H381V919.9H380V917.7H379V917.6H378V917.4H377V917.2H376V917.8H375V916.8H374V916.9H373V917.2H372V917.2H371V917H370V916.9H369V916.8H368V916.6H367V919.1H366V919.1H365V916.7H364V917H363V916.5H362V916.5H361V916.5H360V917.1H359V917H358V916.2H357V916.6H356V916.4H355V916.4H354V916.5H353V916.6H352V917.1H351V917H350V916.6H349V916.5H348V916.7H347V916.6H346V916.7H345V916.6H344V916.2H343V916.5H342V916.5H341V916.4H340V916.9H339V916.9H338V917.6H337V917.5H336V917.4H335V915.6H334V915.4H333V915.3H332V915.1H331V915.1H330V915H329V914.9H328V914.6H327V914.6H326V914.9H325V915H324V915H323V915H322V914.6H321V914.4H320V914.2H319V914.2H318V914.6H317V914.5H316V914.5H315V914.4H314V914.1H313V913.9H312V913.2H311V913.2H310V912.8H309V912.7H308V912.6H307V913.3H306V912.2H305V911.9H304V911.7H303V911.6H302V912.2H301V912.1H300V911.4H299V911.3H298V911.2H297V912.4H296V912.3H295V911.6H294V911.4H293V910.4H292V910.3H291V910.3H290V910.1H289V909.9H288V909.8H287V909.7H286V909.7H285V909.7H284V909.7H283V909.7H282V909.4H281V910H280V909.9H279V908.9H278V908.8H277V908.6H276V909H275V908.3H274V908.3H273V908.7H272V908.7H271V908.3H270V908.3H269V908.6H268V908.6H267V908.4H266V907.8H265V908.5H264V908.2H263V907.2H262V906.6H261V906H260V905.3H259V904.8H258V904.5H257V904.2H256V904H255V904.9H254V904.5H253V905.9H252V905.4H251V902H250V901.9H249V901.4H248V901.3H247V900.8H246V900.8H245V900.2H244V899.4H243V899.2H242V900.3H241V900.1H240V899.9H239V897.9H238V897.2H237V896.6H236V895.9H235V895.4H234V894.9H233V894.3H232V893.4H231V893.1H230V894.6H229V892.9H228V891.7H227V891.1H226V890.5H225V889.5H224V888.5H223V888.9H222V888H221V886.1H220V885.2H219V884.7H218V884.3H217V883.8H216V882.9H215V884.7H214V883.6H213V879.5H212V878.5H211V879.3H210V878.8H209V877.9H208V877H207V877.4H206V876.7H205V876.1H204V875.1H203V875.5H202V874.4H201V873.9H200V870.9H199V870.9H198V874.5H197V874.5H196V872.7H195V872.7H194V871.2H193V871.3H192V872.6H191V873H190V872.7H189V873.1H188V873.1H187V872.9H186V872.8H185V872.7H184V871.9H183V877.1H182V873.4H181V874.2H180V875.4H179V876.2H178V876.6H177V877.6H176V877.6H175V878.6H174V876.9H173V878.8H172V880H171V879.4H170V880.7H169V883.3H168V883.7H167V883.8H166V883.9H165V884H164V884.3H163V884.5H162V883.7H161V884.4H160V885.1H159V886.2H158V887.1H157V887.7H156V888.3H155V888.6H154V888H153V888.3H152V888.4H151V888.6H150V888.6H149V889.1H148V889.5H147V889.5H146V889.5H145V889.8H144V889.8H143V887H142V886.2H141V886.1H140V885.3H139V885H138V884.8H137V884.3H136V884.2H135V883.9H134V883.7H133V882.9H132V882.6H131V882.7H130V882.7H129V884.3H128V884.3H127V883.3H126V883.2H125V882.9H124V882.3H123V881.6H122V880H121V879.4H120V878.7H119V882.7H118V882.2H117V881.6H116V878H115V877.6H114V877.2H113V876.8H112V874.5H111V873.7H110V872.8H109V872H108V871.2H107V869.6H106V868.5H105V867.1H104V865.7H103V865.1H102V864.6H101V864.4H100V865.7H99V864.7H98V864.2H97V864.6H96V863.4H95V862.1H94V860.8H93V859.5H92V858.2H91V856.9H90V855.8H89V852.9H88V851.7H87V853.2H86V854.8H85V856.5H84V856.5H83V856.2H82V855.6H81V855.1H80V854.6H79V858.2H78V854.9H77V854.4H76V855.7H75V855.3H74V855.8H73V856.2H72V857.3H71V855.8H70V854.8H69V853.9H68V852.9H67V852.4H66V853.3H65V852.2H64V849.6H63V848.9H62V848.2H61V849.9H60V849.1H59V845.4H58V837.4H57V833.3H56V829.2H55V825.4H54V822.1H53V817.5H52Z"/>
<path class="crv" fill="#000" d="M52 971.3H53V965.3H54V972.3H55V970.4H56V970.2H57V971.3H58V970.8H59V969.9H60V969.5H61V970.1H62V969.6H63V969.1H64V967.6H65V967.4H66V967.2H67V967.2H68V965.7H69V965.7H70V968.6H71V962.7H72V962.7H73V962.5H74V968.4H75V966.4H76V968.2H77V966H78V967H79V966.1H80V965.9H81V966.4H82V966.8H83V967.5H84V967.7H85V967.6H86V967.4H87V960.7H88V960.6H89V960.6H90V968H91V967.4H92V968.6H93V969H94V969.2H95V965.5H96V965.9H97V971.8H98V972.5H99V973.3H100V974.2H101V972.8H102V968.2H103V969.4H104V976.1H105V977.7H106V978.8H107V979.5H108V980.5H109V980.7H110V981H111V980H112V981H113V981.1H114V980.8H115V981.2H116V981.2H117V981.4H118V981.6H119V974.5H120V974.7H121V974.7H122V980.6H123V981.6H124V981H125V980.9H126V980.7H127V980.5H128V981H129V980.9H130V980.6H131V980.1H132V979.9H133V980H134V979.6H135V979.2H136V974H137V973.9H138V977.9H139V978.2H140V978.7H141V970.5H142V978.5H143V972.6H144V978.2H145V977.5H146V979.2H147V979.5H148V979.9H149V980H150V979.7H151V979.8H152V979.9H153V980.2H154V979.1H155V979.4H156V979.9H157V980H158V980.1H159V981.1H160V973.5H161V973.9H162V974.4H163V982.6H164V981.7H165V980.2H166V980.2H167V979H168V978.2H169V977.4H170V975.9H171V976H172V975.4H173V974.8H174V967H175V972.8H176V972.2H177V969.6H178V967.8H179V966H180V965H181V963.4H182V962.7H183V961.2H184V959.5H185V956.3H186V954.7H187V953H188V953.4H189V953H190V952.5H191V952H192V946.2H193V945.4H194V937.5H195V941.8H196V949.3H197V952.6H198V954.9H199V955.1H200V956.3H201V951H202V953.1H203V962.8H204V964.9H205V967.3H206V968.2H207V970.1H208V972H209V974H210V976.8H211V978.2H212V980.6H213V982H214V982.3H215V983.7H216V984.7H217V985.8H218V986.7H219V987.5H220V988.7H221V989.9H222V990.1H223V991.7H224V992.5H225V993.5H226V994.1H227V994.8H228V994.1H229V995.1H230V994.2H231V996.2H232V997.6H233V997.6H234V997.4H235V996.3H236V996.4H237V990.9H238V996.9H239V998.2H240V998.5H241V999.1H242V998.4H243V999H244V999.6H245V1000.1H246V1000.4H247V1000.8H248V1001.8H249V1002.8H250V999.1H251V999.6H252V1000H253V1004.2H254V1004.3H255V999.7H256V1004.1H257V1004.5H258V1004.9H259V1004.3H260V1004.6H261V1005H262V1005.4H263V1006.9H264V1007.4H265V1008H266V1008.6H267V1008.7H268V1010.3H269V1010.3H270V1010.3H271V1010.2H272V1010.2H273V1010.3H274V1010.7H275V1011.1H276V1011.4H277V1011.2H278V1011.6H279V1008.4H280V1011.5H281V1011.2H282V1011H283V1011.3H284V1010H285V1009.8H286V1009.6H287V1010.5H288V1010.4H289V1010.3H290V1010.1H291V1008.8H292V1009.7H293V1009.3H294V1008.9H295V1008.7H296V1008.5H297V1007.8H298V1007.5H299V1007.9H300V1008.8H301V1009.1H302V1009.4H303V1009.7H304V1009.6H305V1010H306V1009.7H307V1011.2H308V1011.6H309V1010.6H310V1010.6H311V1011.7H312V1011.3H313V1011.6H314V1011.5H315V1012.8H316V1012.6H317V1012.2H318V1012.2H319V1013.2H320V1013.3H321V1013.6H322V1013.8H323V1009.5H324V1014.4H325V1010.7H326V1000.1H327V1000.2H328V1009.2H329V1015.9H330V1016.1H331V1016H332V1015.9H333V1015.9H334V1015.3H335V1015.7H336V1015.5H337V1015.4H338V1015.2H339V1015.3H340V1011.4H341V1012.8H342V1012.3H343V1011.4H344V1011.5H345V1008.4H346V1009.7H347V1014.8H348V1015.7H349V1015.9H350V1016.1H351V1016.3H352V1016.7H353V1016.9H354V1017.1H355V1017.3H356V1016.6H357V1014.8H358V1015H359V1016.9H360V1016.9H361V1017.8H362V1018H363V1017.8H364V1017.7H365V1017.6H366V1017.4H367V1017.2H368V1017.1H369V1017.3H370V1017.2H371V1016.7H372V1016.4H373V1016.5H374V1013.7H375V1013.5H376V1010.7H377V998.7H378V998.5H379V1007.7H380V1016.5H381V1017.4H382V1017.5H383V1017.5H384V1017.5H385V1017.5H386V1017.6H387V1017.8H388V1017.8H389V1018H390V1018.1H391V1018.1H392V1016.7H393V1011.8H394V1011.8H395V1017.8H396V1018.8H397V1019H398V1019.6H399V1019.2H400V1016.6H401V1019.6H402V1019.6H403V1020H404V1020H405V1020H406V1020H407V1020.1H408V1020.1H409V1020.3H410V1020.4H411V1016.1H412V1016.3H413V1016.3H414V1020.5H415V1020.7H416V1020.7H417V1020.3H418V1020.4H419V1021H420V1020.8H421V1021.1H422V1021.7H423V1021.7H424V1022H425V1017.7H426V1017.7H427V1022.1H428V1022.2H429V1022.4H430V1022.5H431V1022.6H432V1018.8H433V1018.9H434V1022.8H435V1022.2H436V1020H437V1020.2H438V1023H439V1023.2H440V1023.8H441V1023.9H442V1023.9H443V1024.1H444V1024.2H445V1024.3H446V1024.4H447V1024.4H448V1024.4H449V1024.2H450V1024.2H451V1024.5H452V1024.3H453V1024.3H454V1024.4H455V1024.5H456V1024.5H457V1024.9H458V1025.1H459V1025.2H460V1025.3H461V1025.3H462V1025.5H463V1025.2H464V1025.5H465V1025.5H466V1025.6H467V1025.6H468V1025.6H469V1025.8H470V1026H471V1026.2H472V1025.9H473V1026H474V1026H475V1026H476V1026.7H477V1026.8H478V1026.8H479V1026.9H480V1026.2H481V1026.3H482V1026.8H483V1026.8H484V1026.8H485V1026.7H486V1026.6H487V1026.6H488V1026.6H489V1027H490V1026.9H491V1026.5H492V1026.4H493V1026H494V1025.9H495V1026.1H496V1026.1H497V1026H498V1025.1H499V1022.3H500V1022.3H501V1025.9H502V1025.8H503V1025.9H504V1026H505V1023.8H506V1023.9H507V1025.9H508V1026.2H509V1025.7H510V1025.8H511V1025.7H512V1021.6H513V1021.6H514V1026H515V1023.4H516V1023.4H517V1023.4H518V1025.6H519V1025.6H520V1025.6H521V1025.6H522V1021.7H523V1021.7H524V1021.1H525V1021.1H526V1025.9H527V1025.9H528V1025.9H529V1025.5H530V1025.5H531V1025.7H532V1025.7H533V1025.6H534V1025.8H535V1025.8H536V1025.8H537V1025.8H538V1025.8H539V1025.8H540V1026H541V1026H542V1025.9H543V1025.4H544V1025.4H545V1025.5H546V1026.1H547V1022.6H548V1026.4H549V1026H550V1026H551V1026H552V1026H553V1021.4H554V1021.4H555V1025.8H556V1025.7H557V1025.7H558V1025.7H559V1025.8H560V1025.8H561V1026.1H562V1026.2H563V1026.2H564V1026.3H565V1026.6H566V1026.2H567V1026.3H568V1026.3H569V1026.7H570V1026.7H571V1026.6H572V1026.6H573V1026.1H574V1026.2H575V1026.2H576V1026.2H577V1026.6H578V1026.6H579V1026.6H580V1027H581V1022.9H582V1024.1H583V1024.2H584V1026.9H585V1022.7H586V1022.6H587V1022.6H588V1026.6H589V1024.2H590V1024.3H591V1024.5H592V1026.8H593V1026.7H594V1026.4H595V1027.2H596V1024.4H597V1024.5H598V1026.7H599V1027.5H600V1027.5H601V1027.5H602V1027.2H603V1027.2H604V1027.2H605V1026.5H606V1026.5H607V1026.6H608V1026.5H609V1027.4H610V1027.4H611V1027.2H612V1027.4H613V1023.4H614V1023.4H615V1027.3H616V1027.4H617V1027.8H618V1027.9H619V1027.5H620V1027.6H621V1027.3H622V1027.3H623V1027.4H624V1028.2H625V1028.2H626V1028.2H627V1027.6H628V1025.4H629V1025.4H630V1025.4H631V1027.2H632V1027.3H633V1027.3H634V1027.4H635V1027.5H636V1028.1H637V1025.7H638V1025.7H639V1028.4H640V1027.8H641V1027.8H642V1028.4H643V1027.8H644V1027.8H645V1027.9H646V1027.9H647V1028.4H648V1028.4H649V1028.4H650V1028.4H651V1028.2H652V1028.3H653V1028.3H654V1028.4H655V1028.7H656V1028.7H657V1028.7H658V1028.8H659V1028.4H660V1028.4H661V1028.3H662V1028.3H663V1028.2H664V1028.2H665V1028.3H666V1028.4H667V1028.7H668V1028.7H669V1025.4H670V1025.4H671V1028.2H672V1033.1H671V1033H670V1033H669V1033H668V1033H667V1032.8H666V1032.7H665V1032.6H664V1032.6H663V1032.9H662V1032.9H661V1033H660V1033H659V1032.7H658V1032.7H657V1032.7H656V1032.7H655V1032.5H654V1032.9H653V1032.8H652V1032.7H651V1032.3H650V1032.2H649V1032.2H648V1032.2H647V1032.8H646V1032.8H645V1034.6H644V1034.7H643V1034.7H642V1032.2H641V1032.3H640V1032.5H639V1032.4H638V1032.5H637V1032.5H636V1032.7H635V1034.9H634V1034.8H633V1032.5H632V1031.8H631V1031.8H630V1032.8H629V1032.8H628V1031.9H627V1032.6H626V1032.6H625V1032.6H624V1032.4H623V1032.3H622V1032.2H621V1031.9H620V1031.8H619V1032H618V1031.9H617V1032.3H616V1032.3H615V1032.3H614V1032.2H613V1032.2H612V1031.3H611V1031.4H610V1031.3H609V1031.8H608V1031.8H607V1031.8H606V1031.7H605V1031.6H604V1031.6H603V1031.6H602V1031.5H601V1031.5H600V1031.5H599V1032.4H598V1032.3H597V1031.1H596V1031.5H595V1031.3H594V1031.3H593V1031.3H592V1031.8H591V1031.4H590V1031.3H589V1030.8H588V1031H587V1031H586V1031.5H585V1031.6H584V1031.6H583V1031.3H582V1031.4H581V1031.3H580V1031.1H579V1033.2H578V1033.1H577V1033.1H576V1031H575V1030.9H574V1033.5H573V1031H572V1030.9H571V1031H570V1031.1H569V1031.1H568V1031.1H567V1031H566V1030.6H565V1030.7H564V1030.6H563V1030.2H562V1030.1H561V1030.3H560V1030.2H559V1030.5H558V1030.2H557V1030.2H556V1030.3H555V1030.6H554V1030.6H553V1030.7H552V1032.2H551V1032.2H550V1031.9H549V1030.2H548V1030.1H547V1030H546V1030H545V1029.9H544V1029.8H543V1029.9H542V1029.9H541V1030H540V1029.8H539V1029.8H538V1029.9H537V1029.8H536V1029.8H535V1029.9H534V1030H533V1030H532V1030.2H531V1031.8H530V1030H529V1029.7H528V1029.7H527V1029.7H526V1029.7H525V1029.9H524V1029.7H523V1029.7H522V1029.8H521V1029.8H520V1031.2H519V1031.2H518V1031.2H517V1031.2H516V1030.2H515V1030.2H514V1030.1H513V1030.2H512V1029.9H511V1030H510V1030.4H509V1030.5H508V1030.3H507V1030.2H506V1030.2H505V1030.2H504V1030.1H503V1030H502V1030.2H501V1030.1H500V1029.9H499V1030H498V1033.1H497V1033.3H496V1030.5H495V1030.9H494V1031H493V1031.5H492V1031.6H491V1030.9H490V1031H489V1031H488V1030.9H487V1031H486V1031H485V1031.4H484V1031.4H483V1031.4H482V1031H481V1031H480V1031H479V1030.9H478V1030.9H477V1030.8H476V1031H475V1033.4H474V1033.3H473V1030.6H472V1030.2H471V1030H470V1029.8H469V1029.6H468V1029.8H467V1029.8H466V1029.9H465V1029.8H464V1029.4H463V1029.5H462V1029.6H461V1029.6H460V1029.6H459V1029.5H458V1029.2H457V1029.3H456V1028.6H455V1028.5H454V1028.5H453V1028.4H452V1028.5H451V1028.9H450V1028.8H449V1029.4H448V1029.4H447V1028.2H446V1028.2H445V1028.1H444V1028H443V1027.9H442V1027.8H441V1028.2H440V1027.9H439V1027.7H438V1027.8H437V1027.6H436V1027.4H435V1027.1H434V1027H433V1026.9H432V1026.8H431V1026.8H430V1026.7H429V1026.4H428V1026.4H427V1026.3H426V1026.2H425V1026.1H424V1026H423V1025.9H422V1025.4H421V1025.1H420V1025.7H419V1024.9H418V1024.9H417V1024.8H416V1024.8H415V1024.7H414V1024.7H413V1024.7H412V1024.9H411V1024.7H410V1024.3H409V1024.2H408V1024.3H407V1024.3H406V1024.2H405V1023.7H404V1023.7H403V1023.7H402V1023.7H401V1024.6H400V1024.5H399V1025.8H398V1025.6H397V1023.2H396V1023.1H395V1023.2H394V1023H393V1022.8H392V1022.8H391V1022.3H390V1022.2H389V1022H388V1021.9H387V1021.9H386V1022.6H385V1022.6H384V1022.6H383V1022.6H382V1022.1H381V1022H380V1022H379V1022H378V1021.7H377V1021.7H376V1021.7H375V1021.7H374V1023.7H373V1023.5H372V1021.3H371V1021.3H370V1021.4H369V1021.8H368V1022H367V1021.9H366V1022.1H365V1022.3H364V1022.3H363V1021.9H362V1021.7H361V1021.9H360V1021.8H359V1021.8H358V1022.5H357V1022.4H356V1021.5H355V1023.6H354V1023.4H353V1023.2H352V1020.3H351V1020.1H350V1019.9H349V1019.7H348V1019.7H347V1019.4H346V1019.2H345V1019.6H344V1019.5H343V1020.8H342V1019.5H341V1019.6H340V1019.4H339V1019.9H338V1020H337V1020.2H336V1020.2H335V1020.2H334V1020H333V1020H332V1020.6H331V1020.8H330V1020.6H329V1020.6H328V1020.2H327V1019.8H326V1019.3H325V1018.9H324V1019H323V1018.7H322V1018.4H321V1021.2H320V1021H319V1020.9H318V1017.7H317V1017.3H316V1018H315V1017.1H314V1016.7H313V1016.4H312V1016.8H311V1016.1H310V1016H309V1016.8H308V1016.8H307V1015.6H306V1017.4H305V1014.9H304V1014.7H303V1014.4H302V1014.6H301V1014.3H300V1014.6H299V1014.3H298V1013.6H297V1013.7H296V1014.1H295V1014.2H294V1014.6H293V1014.9H292V1015.4H291V1015.6H290V1016.1H289V1016.2H288V1016.4H287V1016.9H286V1017.2H285V1017.4H284V1016.7H283V1017.2H282V1017.3H281V1017.3H280V1017.3H279V1017.3H278V1017.3H277V1017.3H276V1017.3H275V1016.9H274V1016.6H273V1017H272V1016.8H271V1017H270V1017H269V1018.6H268V1018.4H267V1016.1H266V1015.6H265V1015H264V1014H263V1015.8H262V1015.4H261V1013H260V1012.7H259V1013.9H258V1013.5H257V1013.2H256V1013H255V1012.8H254V1012.2H253V1012H252V1012H251V1011.5H250V1010.9H249V1010H248V1009.2H247V1008.8H246V1010.2H245V1009.8H244V1009.3H243V1008.8H242V1007.2H241V1006.6H240V1006.1H239V1006H238V1005.8H237V1005.5H236V1005.5H235V1005.5H234V1010.1H233V1010.4H232V1008.3H231V1005.6H230V1005.3H229V1004.4H228V1004.6H227V1002.7H226V1002.1H225V1003.6H224V1003H223V999.3H222V999.1H221V998.1H220V998H219V996.7H218V995.8H217V994.9H216V994H215V993.1H214V992.5H213V991.2H212V989.5H211V988.2H210V986.2H209V984.2H208V982.2H207V980.3H206V978.6H205V976.7H204V974.2H203V970.8H202V968.6H201V966.5H200V964.4H199V964.1H198V962.7H197V962H196V961.4H195V962.1H194V963.3H193V961.1H192V961.4H191V961.9H190V962.4H189V963.6H188V965.3H187V966.9H186V968.6H185V971H184V972.1H183V972.6H182V973H181V974.8H180V976.5H179V978.2H178V979.8H177V981.7H176V984.5H175V985H174V982H173V982.5H172V983.3H171V984.3H170V984.2H169V985H168V986.1H167V987.7H166V989.1H165V990.3H164V990.4H163V990.2H162V988.6H161V988.2H160V987.7H159V988.5H158V988.4H157V988.3H156V989.4H155V989H154V986.8H153V986.5H152V986.1H151V986.1H150V986.8H149V986.8H148V986.7H147V986.4H146V985.4H145V985.7H144V986.3H143V986.4H142V985H141V985.1H140V985.7H139V986.1H138V986.2H137V986.4H136V989.2H135V989.5H134V991.9H133V988.8H132V988.3H131V987.4H130V987.7H129V987.9H128V989.3H127V989.5H126V989.6H125V989.8H124V988.9H123V988.3H122V988.3H121V988.3H120V989.6H119V989.1H118V988.9H117V988.7H116V988.5H115V987.9H114V988.1H113V988.1H112V989.1H111V988H110V987.9H109V987.8H108V987.4H107V991.3H106V991.2H105V986.9H104V986.2H103V983.8H102V983.5H101V983.5H100V982.8H99V982H98V981.1H97V979.6H96V978.6H95V977.9H94V977.5H93V977.1H92V977.7H91V977.8H90V977.2H89V975H88V975.5H87V975.8H86V975.8H85V975.8H84V975.6H83V975.2H82V975.5H81V975.1H80V975.4H79V976.3H78V976.3H77V977.3H76V976.9H75V979H74V979.1H73V978.5H72V976.9H71V976.9H70V980.8H69V980.8H68V976.5H67V976.2H66V976.4H65V976.6H64V980.1H63V980.6H62V981.1H61V978.5H60V979.1H59V980.3H58V980.9H57V981.6H56V981.6H55V981.2H54V981H53V980.1H52Z"/>
</g>
<text id="t_a_lab" transform="translate(69.60,64.80) scale(0.940,1)" font-size="20" fill="#222" stroke="#222" stroke-width="0.45">(a)</text>
<text id="t_b_lab" transform="translate(71.20,640.00) scale(1.102,1)" font-size="19.3" font-weight="bold" fill="#222">(b)</text>
<text id="t_n3461" transform="translate(134.40,100.20) scale(0.916,1)" font-size="19.2" fill="#333" letter-spacing="0.8">3461</text>
<text id="t_n1642" transform="translate(429.80,73.60) scale(0.924,1)" font-size="19.6" fill="#333" letter-spacing="0.8">1642</text>
<text id="t_n784" transform="translate(574.80,72.00) scale(1.066,1)" font-size="17.9" fill="#333" letter-spacing="0.8">784</text>
<text id="t_n967" transform="translate(551.80,98.60) scale(1.005,1)" font-size="18.5" fill="#333" letter-spacing="0.8">967</text>
<text id="t_n464b" transform="translate(607.60,150.80) scale(0.983,1)" font-size="18.1" fill="#333" letter-spacing="0.8">464</text>
<text id="t_n1096" transform="translate(516.80,203.20) scale(0.918,1)" font-size="19.6" fill="#333" letter-spacing="0.8">1096</text>
<text id="t_n3331" transform="translate(149.00,372.40) scale(0.936,1)" font-size="19" fill="#333" letter-spacing="0.8">3331</text>
<text id="t_n1724" transform="translate(413.20,251.00) scale(0.904,1)" font-size="20" fill="#333" letter-spacing="0.8">1724</text>
<text id="t_n464r" transform="translate(613.60,319.80) scale(0.988,1)" font-size="17.8" fill="#333" letter-spacing="0.8">464</text>
<text id="t_n1032" transform="translate(526.60,402.60) scale(0.887,1)" font-size="20" fill="#333" letter-spacing="0.8">1032</text>
<text id="t_n3407" transform="translate(98.80,461.80) scale(0.962,1)" font-size="18.5" fill="#333" letter-spacing="0.8">3407</text>
<text id="t_n1647" transform="translate(426.40,439.20) scale(0.991,1)" font-size="17.4" fill="#333" letter-spacing="0.8">1647</text>
<text id="t_n1083" transform="translate(527.60,461.00) scale(0.956,1)" font-size="18.6" fill="#333" letter-spacing="0.8">1083</text>
<text id="t_n789" transform="translate(570.40,431.40) scale(1.013,1)" font-size="17.4" fill="#333" letter-spacing="0.8">789</text>
<text id="t_n464k" transform="translate(617.00,456.20) scale(0.987,1)" font-size="17.4" fill="#333" letter-spacing="0.8">464</text>
<text id="t_n797" transform="translate(574.20,252.60) scale(0.906,1)" font-size="15.5" fill="#333" letter-spacing="2.2">797</text>
<text id="t_RHa" transform="translate(302.00,402.80) scale(1.024,1)" font-size="20.2" fill="#333">RH</text>
<text id="t_SiOa" transform="translate(297.60,46.20) scale(0.977,1)" font-size="21.1" fill="#2a2aff">SiO</text>
<text id="t_2NPa" transform="translate(333.60,53.00) scale(1.065,1)" font-size="11.4" fill="#4a4aff">2NP</text>
<text id="t_SCNa" transform="translate(286.80,237.80) scale(0.848,1)" font-size="22.5" fill="#ee2030">SC<tspan dx="3">N</tspan></text>
<text id="t_NPa" transform="translate(331.00,244.60) scale(1.278,1)" font-size="10.6" fill="#e07080">NP</text>
<text id="t_ta500" transform="translate(619.10,492.00) scale(0.890,1)" font-size="14.9" font-weight="bold" fill="#222" letter-spacing="1.5">500</text>
<text id="t_ta1000" transform="translate(533.86,492.50) scale(0.890,1)" font-size="14.9" font-weight="bold" fill="#222" letter-spacing="1.5">1000</text>
<text id="t_ta1500" transform="translate(452.45,492.50) scale(0.890,1)" font-size="14.9" font-weight="bold" fill="#222" letter-spacing="1.5">1500</text>
<text id="t_ta2000" transform="translate(371.43,492.50) scale(0.890,1)" font-size="14.9" font-weight="bold" fill="#222" letter-spacing="1.5">2000</text>
<text id="t_ta2500" transform="translate(289.91,492.50) scale(0.890,1)" font-size="14.9" font-weight="bold" fill="#222" letter-spacing="1.5">2500</text>
<text id="t_ta3000" transform="translate(208.89,492.50) scale(0.890,1)" font-size="14.9" font-weight="bold" fill="#222" letter-spacing="1.5">3000</text>
<text id="t_ta3500" transform="translate(127.37,492.50) scale(0.890,1)" font-size="14.9" font-weight="bold" fill="#222" letter-spacing="1.5">3500</text>
<text id="t_ta4000" transform="translate(46.00,492.00) scale(0.890,1)" font-size="14.9" font-weight="bold" fill="#222" letter-spacing="1.5">4000</text>
<text id="t_tb10" transform="translate(81.10,1072.00) scale(1.011,1)" font-size="20.2" font-weight="bold" fill="#222">10</text>
<text id="t_tb20" transform="translate(164.38,1072.00) scale(1.011,1)" font-size="20.2" font-weight="bold" fill="#222">20</text>
<text id="t_tb30" transform="translate(247.16,1072.00) scale(1.011,1)" font-size="20.2" font-weight="bold" fill="#222">30</text>
<text id="t_tb40" transform="translate(330.44,1072.00) scale(1.011,1)" font-size="20.2" font-weight="bold" fill="#222">40</text>
<text id="t_tb50" transform="translate(412.22,1072.00) scale(1.011,1)" font-size="20.2" font-weight="bold" fill="#222">50</text>
<text id="t_tb60" transform="translate(495.00,1072.00) scale(1.011,1)" font-size="20.2" font-weight="bold" fill="#222">60</text>
<text id="t_tb70" transform="translate(577.78,1072.00) scale(1.011,1)" font-size="20.2" font-weight="bold" fill="#222">70</text>
<text id="t_tb80" transform="translate(660.46,1072.50) scale(1.011,1)" font-size="20.2" font-weight="bold" fill="#222">80</text>
<text id="t_Tpct" transform="translate(30.80,271.00) rotate(-90) scale(0.941,1)" font-size="22" font-weight="bold" fill="#111">T (%)</text>
<text id="t_Inten" transform="translate(16.40,899.60) rotate(-90) scale(0.985,1)" font-size="21.1" font-weight="bold" fill="#111">Intenisity [a.u.]</text>
<text id="t_Wave" transform="translate(264.20,540.00) scale(0.992,1)" font-size="20.8" font-weight="bold" fill="#222">Wavenumber cm</text>
<text id="t_m1" transform="translate(428.80,527.00) scale(1.074,1)" font-size="17.1" font-weight="bold" fill="#222">-1</text>
<text id="t_SCNb" transform="translate(576.40,705.60) scale(1.089,1)" font-size="20.8" fill="#3333ee">SCN</text>
<text id="t_NPb" transform="translate(627.40,713.80) scale(1.331,1)" font-size="8.5" fill="#5555ee" letter-spacing="2">NP</text>
<text id="t_SiOb" transform="translate(601.40,901.60) scale(1.172,1)" font-size="20.5" fill="#e83040">SiO</text>
<text id="t_2NPb" transform="translate(641.60,907.80) scale(1.287,1)" font-size="8.5" fill="#e05060" letter-spacing="2">2NP</text>
<text id="t_RHb" transform="translate(623.40,1012.60) scale(1.085,1)" font-size="21.3" fill="#444" letter-spacing="1.2">RH</text>
<text id="t_twoth" transform="translate(375.40,1107.80) scale(1.087,1)" font-size="20.5" font-weight="bold" fill="#111">2&#952;</text>
<text id="t_Osup" transform="translate(398.80,1096.70) scale(1.245,1)" font-size="13.6" font-weight="bold" fill="#111">O</text>
</svg>
</body></html>
